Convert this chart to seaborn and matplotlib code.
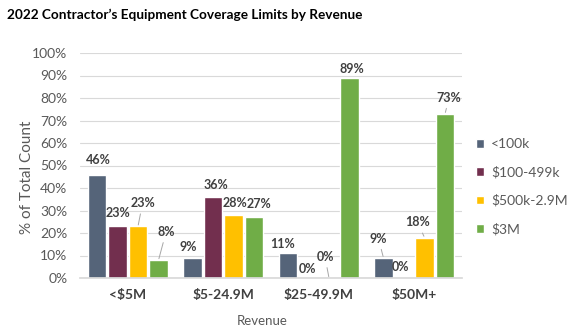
import matplotlib
matplotlib.use("Agg")
import matplotlib.pyplot as plt
import seaborn as sns
import pandas as pd

categories = ["<$5M", "$5-24.9M", "$25-49.9M", "$50M+"]
series = ["<100k", "$100-499k", "$500k-2.9M", "$3M"]
v_lt100k = [46, 9, 11, 9]
v_100_499k = [23, 36, 0, 0]
v_500k_29m = [23, 28, 0, 18]
v_3m = [8, 27, 89, 73]
colors = ["#556479", "#722F4E", "#FFC000", "#70AD47"]
yticks = [0, 10, 20, 30, 40, 50, 60, 70, 80, 90, 100]

values = [v_lt100k, v_100_499k, v_500k_29m, v_3m]
rows = []
for s, vals in zip(series, values):
    for c, v in zip(categories, vals):
        rows.append({"Revenue": c, "Series": s, "Value": v})
df = pd.DataFrame(rows)

sns.set_theme(style="white")
plt.rcParams["font.family"] = ["Lato", "DejaVu Sans"]

fig = plt.figure(figsize=(5.67, 3.31), dpi=100)
ax = fig.add_axes([80/567, 1 - 278/331, 382/567, 225/331])

sns.barplot(data=df, x="Revenue", y="Value", hue="Series", order=categories,
            hue_order=series, palette=colors, width=0.86, gap=0.1,
            saturation=1, ax=ax, legend=True)

ax.set_ylim(0, 100)
ax.set_xlim(-0.5, 3.5)
ax.set_yticks(yticks)
ax.set_yticklabels([f"{t}%" for t in yticks])
ax.yaxis.grid(True, color="#D9D9D9", lw=0.8)
ax.set_axisbelow(True)
for sp in ["left", "right", "top"]:
    ax.spines[sp].set_visible(False)
ax.spines["bottom"].set_color("#D9D9D9")
ax.tick_params(axis="y", length=0, pad=9, labelsize=10, labelcolor="#595959")
ax.tick_params(axis="x", length=0, pad=8, labelsize=10, labelcolor="#404040")
for lab in ax.get_xticklabels():
    lab.set_fontweight("bold")

ax.set_ylabel("% of Total Count", fontsize=11, color="#595959")
ax.yaxis.set_label_coords(-0.12, 0.449)
ax.set_xlabel("Revenue", fontsize=9.5, color="#595959")
ax.xaxis.set_label_coords(0.476, -0.165)

fig.text(7/567, 1 - 15/331, "2022 Contractor\u2019s Equipment Coverage Limits by Revenue",
         fontsize=9.8, fontweight="bold", color="#000000", va="center", ha="left")

# label offsets in pixels (dx, up), and leader flag
offsets = [
    [(1, 14, False), (-4, 11, False), (-5, 9, False), (-5, 19, True)],
    [(0, 13, False), (3, 12, False), (-1, 9, False), (-3, 11, False)],
    [(4.5, 23, True), (1, 12, False), (-4, 21, True), (-7, 15, True)],
    [(7.5, 28, True), (5, 13, False), (2, 9, False), (4, 16, True)],
]
px2pt = 72 / 100
for hi, cont in enumerate(ax.containers):
    for ci, bar in enumerate(cont):
        x = bar.get_x() + bar.get_width() / 2
        h = bar.get_height()
        dx, up, leader = offsets[hi][ci]
        kw = {}
        if leader:
            kw["arrowprops"] = dict(arrowstyle="-", color="#A6A6A6", lw=0.7,
                                    shrinkA=1, shrinkB=1)
        ax.annotate(f"{values[hi][ci]}%", xy=(x, h),
                    xytext=(dx * px2pt, up * px2pt), textcoords="offset points",
                    ha="center", va="center", fontsize=9, fontweight="bold",
                    color="#404040", **kw)

handles, labels = ax.get_legend_handles_labels()
ax.get_legend().remove()
fig.legend(handles, labels, loc="upper left", bbox_to_anchor=(476/567, 1 - 138/331),
           frameon=False, fontsize=10, handlelength=0.6, handleheight=0.6,
           handletextpad=0.5, labelspacing=1.15, labelcolor="#595959",
           borderaxespad=0, borderpad=0)

fig.savefig("out.png", dpi=100)
